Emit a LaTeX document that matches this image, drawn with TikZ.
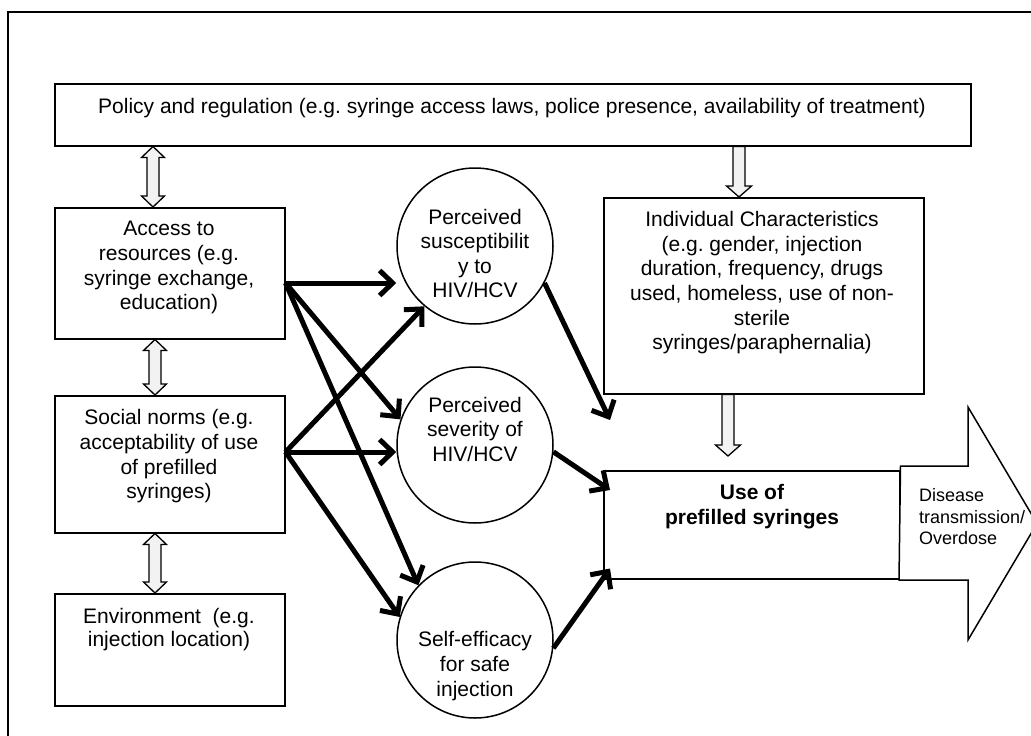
\documentclass[tikz,border=0pt]{standalone}
\usepackage{fontspec}
\setmainfont{Liberation Sans}
\frenchspacing
\usetikzlibrary{arrows.meta,calc}
\newcommand{\hollowdbl}[2]{\draw[hollow] (#1) -- ++(11.5,11) -- ++(-5.5,0) -- ($(#2)+(6,-11)$) -- ++(5.5,0) -- (#2) -- ++(-11.5,-11) -- ++(5.5,0) -- ($(#1)+(-6,11)$) -- ++(-5.5,0) -- cycle;}
\newcommand{\hollowdown}[2]{\draw[hollow] ($(#1)+(-6,0)$) -- ($(#2)+(-6,-11)$) -- ++(-6.5,0) -- (#2) -- ++(12.5,-11) -- ++(-6.5,0) -- ($(#1)+(6,0)$) -- cycle;}
\begin{document}
\begin{tikzpicture}[x=1pt,y=-1pt,
  box/.style={draw,line width=1.5pt,inner sep=0pt,anchor=north west},
  circ/.style={draw,circle,line width=1.5pt,minimum size=156pt,inner sep=0pt},
  txt/.style={font=\fontsize{21}{24.7}\selectfont,align=center,inner sep=0pt,anchor=north},
  blk/.style={line width=5pt,-{Straight Barb[length=13pt,width=25pt]}},
  hollow/.style={draw,line width=1.3pt,fill=gray!10,line join=miter}]
\useasboundingbox (0,0) rectangle (1031,736);
\draw[line width=1.5pt] (8,12) rectangle (1045,750);
% boxes
\node[box,minimum width=916pt,minimum height=62pt] (policy) at (54,83) {};
\node[txt,anchor=base] (policyt) at (512,113.5) {Policy and regulation (e.g. syringe access laws, police presence, availability of treatment)};
\node[box,minimum width=230pt,minimum height=131pt] (access) at (54,207) {};
\node[txt] (accesst) at (169,218.2) {\strut Access to\\resources (e.g.\\syringe exchange,\\education)};
\node[box,minimum width=230pt,minimum height=137pt] (social) at (54,395) {};
\node[txt] (socialt) at (169,407.2) {\strut Social norms (e.g.\\acceptability of use\\of prefilled\\syringes)};
\node[box,minimum width=230pt,minimum height=112pt] (env) at (54,593) {};
\node[txt,font=\fontsize{21}{23}\selectfont] (envt) at (169,607.5) {\strut Environment~ (e.g.\\injection location)};
% circles
\node[circ] (c1) at (475,246) {};
\node[txt,font=\fontsize{21}{24.3}\selectfont] (c1t) at (475,207.2) {\strut Perceived\\susceptibilit\\y to\\HIV/HCV};
\node[circ] (c2) at (475,445) {};
\node[txt,font=\fontsize{21}{24.3}\selectfont] (c2t) at (475,395.2) {\strut Perceived\\severity of\\HIV/HCV};
\node[circ] (c3) at (475,640) {};
\node[txt] (c3t) at (475,629.2) {\strut Self-efficacy\\for safe\\injection};
% right side
\node[box,minimum width=320pt,minimum height=196pt] (indiv) at (603,197) {};
\node[txt,font=\fontsize{21}{24.6}\selectfont] (indivt) at (762,209.2) {\strut Individual Characteristics\\(e.g. gender, injection\\duration, frequency, drugs\\used, homeless, use of non-\\sterile\\syringes/paraphernalia)};
\node[box,minimum width=296pt,minimum height=108pt] (use) at (603,470) {};
\node[txt,font=\fontsize{21}{25}\selectfont\bfseries] (uset) at (752,482.2) {\strut Use of\\prefilled syringes};
\draw[line width=1.5pt,fill=white,line join=miter] (use.north east) ++(0,-4) -- (968,466) -- (968,407) -- (1037,523.5) -- (968,640) -- (968,580) -- (899,580) -- cycle;
\node[font=\fontsize{18}{21.5}\selectfont,align=left,anchor=north west,inner sep=0pt] (dis) at (919,486.5) {\strut Disease\\transmission/\\Overdose};
% black arrows
\coordinate (aout) at ($(access.north east)+(0,76)$);
\coordinate (sout) at ($(social.north east)+(0,57)$);
\coordinate (u1) at ($(use.north west)+(7,-50)$);
\coordinate (u2) at ($(use.north west)+(7,20)$);
\coordinate (u3) at ($(use.south west)+(7,-11)$);
\draw[blk] (aout) -- (aout -| c1.west);
\draw[blk] (aout) -- (c2.161);
\draw[blk] (aout) -- (c3.136);
\draw[blk] (sout) -- (c1.230);
\draw[blk] (sout) -- (sout -| c2.west);
\draw[blk] (sout) -- (c3.163);
\draw[blk] (c1.332) -- (u1);
\draw[blk] (c2.355) -- (u2);
\draw[blk] (c3.354) -- (u3);
% hollow arrows
\coordinate (xa) at (153,0);
\coordinate (xb) at (155,0);
\coordinate (xc) at (739,0);
\coordinate (xd) at (728,0);
\coordinate (udtip) at ($(use.north -| xd)+(0,-14)$);
\hollowdbl{policy.south -| xa}{access.north -| xa}
\hollowdbl{access.south -| xb}{social.north -| xb}
\hollowdbl{social.south -| xb}{env.north -| xb}
\hollowdown{policy.south -| xc}{indiv.north -| xc}
\hollowdown{indiv.south -| xd}{udtip}
\end{tikzpicture}
\end{document}
